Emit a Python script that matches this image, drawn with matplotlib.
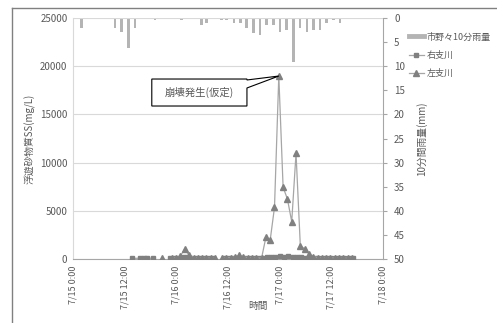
import matplotlib

matplotlib.use("Agg")
import matplotlib.pyplot as plt
import numpy as np
from matplotlib.lines import Line2D
from matplotlib.patches import Polygon

plt.rcParams["font.family"] = ["Noto Sans CJK JP", "DejaVu Sans"]

# 時間は 7/15 0:00 からの経過時間 (h)
tick_hours = [0, 12, 24, 36, 48, 60, 72]
tick_labels = ["7/15 0:00", "7/15 12:00", "7/16 0:00", "7/16 12:00",
               "7/17 0:00", "7/17 12:00", "7/18 0:00"]

# 市野々 10分雨量 (mm)
rain_t = [2.0, 9.75, 11.3, 12.9, 14.4, 19.0, 25.2, 29.9, 31.0, 34.5, 35.7,
          37.4, 38.9, 40.3, 41.9, 43.4, 45.0, 46.5, 48.1, 49.6, 51.2, 52.7,
          54.3, 55.8, 57.4, 58.9, 60.5, 62.0]
rain_mm = [2.0, 2.0, 3.0, 6.3, 2.0, 0.5, 0.5, 1.5, 1.0, 0.5, 0.5,
           1.0, 1.0, 2.0, 3.2, 3.5, 1.5, 1.5, 3.0, 2.5, 9.1, 2.0,
           3.0, 2.5, 2.5, 1.0, 0.5, 1.0]

# 右支川 SS (mg/L)
right_t = [13.6, 15.6, 16.4, 17.1, 18.6, 19.5, 22.5, 23.5, 24.5, 25.5, 26.5,
           27.5, 28.5, 29.5, 30.5, 31.5, 32.5, 33.5, 35.0, 36.0, 37.0, 38.0,
           39.0, 40.0, 41.0, 42.0, 43.0, 44.0, 45.0, 46.0, 47.0, 48.0, 49.0,
           50.0, 51.0, 52.0, 53.0, 54.0, 55.0, 56.0, 57.0, 58.0, 59.0, 60.0,
           61.0, 62.0, 63.0, 64.0, 65.0]
right_ss = [60, 80, 80, 80, 70, np.nan, 100, 120, 150, 200, 250,
            150, 120, 100, 100, 90, 80, np.nan, 80, 90, 100, 120,
            100, 100, 100, 90, 100, 120, 220, 250, 240, 260, 250,
            300, 240, 230, 200, 150, 120, 100, 100, 100, 90, 90,
            90, 90, 80, 80, 80]

# 左支川 SS (mg/L)
left_t = [20.7, 21.5, 23.0, 24.0, 24.9, 25.9, 26.9, 28.0, 29.0, 30.0, 31.0,
          32.0, 33.0, 33.8, 34.6, 35.6, 36.6, 37.6, 38.6, 39.6, 40.6, 41.6,
          42.6, 43.8, 44.8, 45.8, 46.8, 47.8, 48.8, 49.8, 50.8, 51.8, 52.8,
          53.8, 54.8, 55.8, 56.8, 57.8, 58.8, 59.8, 60.8, 61.8, 62.8, 63.8,
          64.8]
left_ss = [80, np.nan, 100, 150, 300, 1000, 450, 150, 100, 100, 100,
           90, 90, np.nan, 100, 120, 150, 200, 400, 200, 150, 120,
           100, 100, 2250, 1970, 5360, 18980, 7440, 6220, 3870, 10960, 1350,
           1070, 520, 250, 150, 120, 100, 100, 90, 90, 80, 80,
           80]

text_c = "#595959"
line_c = "#a6a6a6"
mark_c = "#808080"
bar_c = "#b4b4b4"

fig = plt.figure(figsize=(4.97, 3.23), dpi=100)
ax = fig.add_axes([73 / 497, 1 - 259 / 323, 310 / 497, 241 / 323])
ax2 = ax.twinx()

# 雨量 (右軸, 反転)
ax2.bar(rain_t, rain_mm, width=0.6, color=bar_c, align="center", zorder=1)
ax2.set_ylim(50, 0)
ax2.set_yticks(np.arange(0, 51, 5))

ax.set_zorder(ax2.get_zorder() + 1)
ax.patch.set_visible(False)

ax.plot(right_t, right_ss, color=line_c, lw=0.9, marker="s", ms=3.2,
        mfc=mark_c, mec=mark_c, zorder=3)
ax.plot(left_t, left_ss, color=line_c, lw=0.9, marker="^", ms=4.0,
        mfc=mark_c, mec=mark_c, zorder=3)

ax.set_xlim(0, 72)
ax.set_ylim(0, 25000)
ax.set_yticks(np.arange(0, 25001, 5000))
ax.set_xticks(tick_hours)
ax.set_xticklabels(tick_labels, rotation=90)
ax.grid(axis="y", color="#d9d9d9", lw=0.8)
ax.set_axisbelow(True)

for a in (ax, ax2):
    for s in a.spines.values():
        s.set_visible(False)
ax.spines["bottom"].set_visible(True)
ax.spines["bottom"].set_color("#a6a6a6")
ax.spines["left"].set_visible(True)
ax.spines["left"].set_color("#d9d9d9")
ax2.spines["right"].set_visible(True)
ax2.spines["right"].set_color("#a6a6a6")

ax.tick_params(axis="y", labelsize=7, colors=text_c, length=0, pad=4)
ax.tick_params(axis="x", labelsize=6.5, colors=text_c, length=0, pad=5)
ax2.tick_params(axis="y", labelsize=7, colors=text_c, length=3, width=0.8,
                direction="out", color="#a6a6a6", pad=5)

ax.set_ylabel("浮遊砂物質SS(mg/L)", fontsize=7, color=text_c, labelpad=3)
ax2.set_ylabel("10分間雨量(mm)", fontsize=7, color=text_c, labelpad=8)
fig.text(258 / 497, 1 - 306 / 323, "時間", fontsize=7, color=text_c,
         ha="center", va="center")

# 吹き出し「崩壊発生(仮定)」
i_peak = int(np.nanargmax(left_ss))
tip = (left_t[i_peak], left_ss[i_peak])
callout = Polygon([(18.3, 18670), (40.4, 18670), (40.4, 18570), tip,
                   (40.4, 17740), (40.4, 15870), (18.3, 15870)],
                  closed=True, fc="white", ec="black", lw=0.8, zorder=5)
ax.add_patch(callout)
ax.text(29.4, 17270, "崩壊発生(仮定)", ha="center", va="center",
        fontsize=7.5, color=text_c, zorder=6)

# 凡例
handles = [
    Line2D([], [], color=bar_c, lw=3.5),
    Line2D([], [], color=line_c, lw=0.9, marker="s", ms=3.2, mfc=mark_c, mec=mark_c),
    Line2D([], [], color=line_c, lw=0.9, marker="^", ms=4.0, mfc=mark_c, mec=mark_c),
]
fig.legend(handles, ["市野々10分雨量", "右支川", "左支川"],
           loc="upper left", bbox_to_anchor=(404 / 497, 1 - 28 / 323),
           frameon=False, fontsize=6.5, labelcolor=text_c, handlelength=1.7,
           handletextpad=0.3, labelspacing=1.0, borderpad=0)

# 外枠
fig.add_artist(Line2D([12 / 497, 12 / 497], [0, 1 - 8 / 323],
                      transform=fig.transFigure, color="#808080", lw=1))
fig.add_artist(Line2D([12 / 497, 1], [1 - 8 / 323, 1 - 8 / 323],
                      transform=fig.transFigure, color="#808080", lw=1))

fig.savefig("out.png", dpi=100)
